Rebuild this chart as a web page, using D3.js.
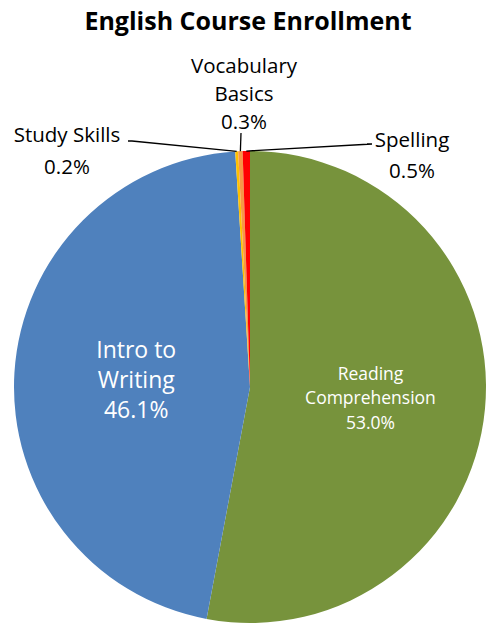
<!DOCTYPE html>
<html><head><meta charset="utf-8">
<script src="https://cdn.jsdelivr.net/npm/d3@7"></script>
<style>body{margin:0;background:#fff;} text{font-family:"Open Sans",sans-serif;}</style>
</head><body><svg id="c" width="486" height="626"></svg>
<script>
const categories = ["Reading Comprehension","Intro to Writing","Study Skills","Vocabulary Basics","Spelling"];
const values = [53.0, 46.1, 0.2, 0.3, 0.5];
const labelLines = [["Reading","Comprehension","53.0%"],["Intro to","Writing","46.1%"],["Study Skills","0.2%"],["Vocabulary","Basics","0.3%"],["Spelling","0.5%"]];
const colors = ["#77933C","#4F81BD","#FFC000","#F79646","#FF0000"];

const svg = d3.select("#c");
const cx = 250, cy = 387, R = 236;
svg.append("text").attr("x",248).attr("y",30).attr("text-anchor","middle")
  .style("font-weight","bold").style("font-size","25px").text("English Course Enrollment");

const data = categories.map((c,i)=>({name:c,value:values[i],lines:labelLines[i],color:colors[i]}));
const pie = d3.pie().sort(null).value(d=>d.value);
const arcs = pie(data);
const arc = d3.arc().innerRadius(0).outerRadius(R);
const g = svg.append("g").attr("transform",`translate(${cx},${cy})`);
g.selectAll("path").data(arcs).join("path").attr("d",arc).attr("fill",d=>d.data.color);

// inner labels
const innerCfg = [{size:17.5,lh:24.5,dx:3,dy:0},{size:23,lh:30,dx:4,dy:0}];
arcs.slice(0,2).forEach((a,i)=>{
  const [x,y] = arc.centroid(a);
  const cfg = innerCfg[i];
  const n = a.data.lines.length;
  const t = g.append("text").attr("text-anchor","middle").attr("fill","#fff").style("font-size",cfg.size+"px");
  a.data.lines.forEach((l,k)=>{
    t.append("tspan").attr("x",x+cfg.dx).attr("y",y+cfg.dy+(k-(n-1)/2)*cfg.lh+cfg.size*0.35).text(l);
  });
});

// outer labels with leader lines (label anchor positions are layout)
const outer = [
  {idx:2, tx:67, ty:[142,174], line:[[-122,-246],[-118,-246]]},
  {idx:3, tx:244, ty:[73,101,129], line:[[-9,-254]]},
  {idx:4, tx:412, ty:[147,178], line:[[117,-243],[122,-243]]}
];
outer.forEach(o=>{
  const a = arcs[o.idx];
  const mid = (a.startAngle+a.endAngle)/2;
  const p0 = [R*Math.sin(mid), -R*Math.cos(mid)];
  const pts = [p0].concat(o.line.slice().reverse());
  g.append("path").attr("d",d3.line()(pts)).attr("fill","none").attr("stroke","#000").attr("stroke-width",1.3);
  const t = svg.append("text").attr("text-anchor","middle").attr("fill","#000").style("font-size","20.5px");
  a.data.lines.forEach((l,k)=>{
    t.append("tspan").attr("x",o.tx).attr("y",o.ty[k]).text(l);
  });
});
</script></body></html>
